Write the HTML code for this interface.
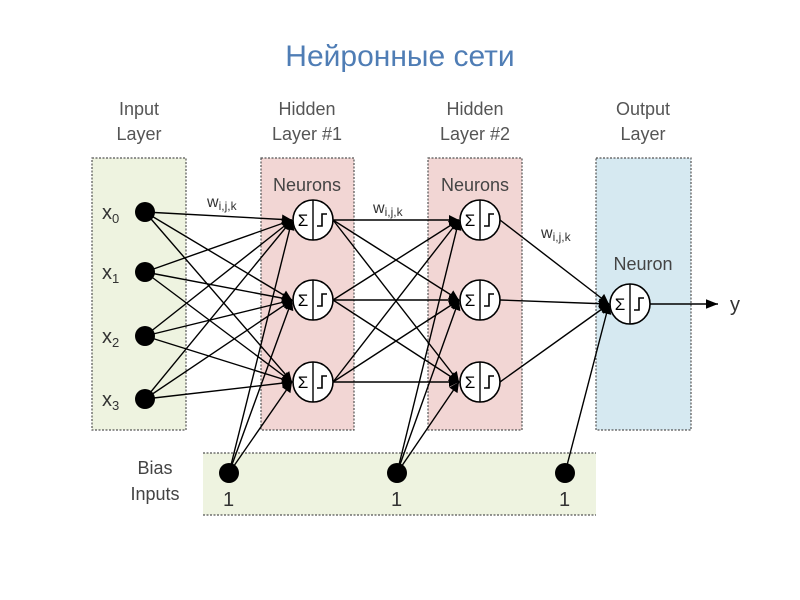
<!DOCTYPE html>
<html><head><meta charset="utf-8"><style>
body{margin:0;background:#fff;}
svg{display:block;font-family:"Liberation Sans",sans-serif;}
</style></head><body>
<svg width="800" height="600" viewBox="0 0 800 600">
<defs>
<marker id="a" viewBox="0 0 10 10" refX="10" refY="5" markerWidth="11" markerHeight="10" orient="auto" markerUnits="userSpaceOnUse"><path d="M0,0 L10,5 L0,10 z" fill="#000"/></marker>
<marker id="b" viewBox="0 0 10 10" refX="10" refY="5" markerWidth="13" markerHeight="12" orient="auto" markerUnits="userSpaceOnUse"><path d="M0,1 L10,5 L0,9 z" fill="#000"/></marker>
<g id="n"><circle r="20" fill="#fff" stroke="#000" stroke-width="1.6"/><line x1="0" y1="-20" x2="0" y2="20" stroke="#000" stroke-width="1.4"/><text x="-10" y="6" font-size="17" text-anchor="middle">Σ</text><path d="M4,6 H9 V-6 H14" fill="none" stroke="#000" stroke-width="1.6"/></g>
</defs>
<text x="400" y="66" font-size="30" fill="#4f7db5" text-anchor="middle">Нейронные сети</text>
<g font-size="18" fill="#555" text-anchor="middle">
<text x="139" y="115">Input</text><text x="139" y="140">Layer</text>
<text x="307" y="115">Hidden</text><text x="307" y="140">Layer #1</text>
<text x="475" y="115">Hidden</text><text x="475" y="140">Layer #2</text>
<text x="643" y="115">Output</text><text x="643" y="140">Layer</text>
</g>
<g stroke="#555" stroke-dasharray="2,1.5" stroke-width="1.2">
<rect x="92" y="158" width="94" height="272" fill="#eef3e0"/>
<rect x="261" y="158" width="93" height="272" fill="#f2d6d4"/>
<rect x="428" y="158" width="94" height="272" fill="#f2d6d4"/>
<rect x="596" y="158" width="95" height="272" fill="#d6e9f1"/>
</g>
<rect x="203" y="453" width="393" height="62" fill="#eef3e0"/>
<g stroke="#555" stroke-dasharray="2,1.5" stroke-width="1.2"><line x1="203" y1="453" x2="596" y2="453"/><line x1="203" y1="515" x2="596" y2="515"/></g>
<g font-size="18" fill="#444" text-anchor="middle">
<text x="307" y="191">Neurons</text><text x="475" y="191">Neurons</text><text x="643" y="270">Neuron</text>
<text x="155" y="474">Bias</text><text x="155" y="500">Inputs</text>
</g>
<g font-size="16" fill="#333">
<text x="207" y="207">w<tspan font-size="12" dy="3">i,j,k</tspan></text>
<text x="373" y="213">w<tspan font-size="12" dy="3">i,j,k</tspan></text>
<text x="541" y="238">w<tspan font-size="12" dy="3">i,j,k</tspan></text>
</g>
<g font-size="20" fill="#333">
<text x="102" y="219">x<tspan font-size="13" dy="4">0</tspan></text>
<text x="102" y="279">x<tspan font-size="13" dy="4">1</tspan></text>
<text x="102" y="343">x<tspan font-size="13" dy="4">2</tspan></text>
<text x="102" y="406">x<tspan font-size="13" dy="4">3</tspan></text>
<text x="223" y="506">1</text><text x="391" y="506">1</text><text x="559" y="506">1</text>
<text x="730" y="311">y</text>
</g>
<g stroke="#000" stroke-width="1.4" marker-end="url(#a)">
<line x1="145" y1="212" x2="292" y2="220"/><line x1="145" y1="212" x2="292" y2="300"/><line x1="145" y1="212" x2="292" y2="382"/>
<line x1="145" y1="272" x2="292" y2="220"/><line x1="145" y1="272" x2="292" y2="300"/><line x1="145" y1="272" x2="292" y2="382"/>
<line x1="145" y1="336" x2="292" y2="220"/><line x1="145" y1="336" x2="292" y2="300"/><line x1="145" y1="336" x2="292" y2="382"/>
<line x1="145" y1="399" x2="292" y2="220"/><line x1="145" y1="399" x2="292" y2="300"/><line x1="145" y1="399" x2="292" y2="382"/>
<line x1="229" y1="473" x2="292" y2="220"/><line x1="229" y1="473" x2="292" y2="300"/><line x1="229" y1="473" x2="292" y2="382"/>
<line x1="333" y1="220" x2="459" y2="220"/><line x1="333" y1="220" x2="459" y2="300"/><line x1="333" y1="220" x2="459" y2="382"/>
<line x1="333" y1="300" x2="459" y2="220"/><line x1="333" y1="300" x2="459" y2="300"/><line x1="333" y1="300" x2="459" y2="382"/>
<line x1="333" y1="382" x2="459" y2="220"/><line x1="333" y1="382" x2="459" y2="300"/><line x1="333" y1="382" x2="459" y2="382"/>
<line x1="397" y1="473" x2="459" y2="220"/><line x1="397" y1="473" x2="459" y2="300"/><line x1="397" y1="473" x2="459" y2="382"/>
<line x1="500" y1="220" x2="609" y2="304"/><line x1="500" y1="300" x2="609" y2="304"/><line x1="500" y1="382" x2="609" y2="304"/>
<line x1="565" y1="473" x2="609" y2="304"/>
</g>
<line x1="650" y1="304" x2="718" y2="304" stroke="#000" stroke-width="1.4" marker-end="url(#b)"/>
<g fill="#000"><circle cx="145" cy="212" r="10"/><circle cx="145" cy="272" r="10"/><circle cx="145" cy="336" r="10"/><circle cx="145" cy="399" r="10"/>
<circle cx="229" cy="473" r="10"/><circle cx="397" cy="473" r="10"/><circle cx="565" cy="473" r="10"/></g>
<use href="#n" x="313" y="220"/><use href="#n" x="313" y="300"/><use href="#n" x="313" y="382"/>
<use href="#n" x="480" y="220"/><use href="#n" x="480" y="300"/><use href="#n" x="480" y="382"/>
<use href="#n" x="630" y="304"/>
</svg>
</body></html>
